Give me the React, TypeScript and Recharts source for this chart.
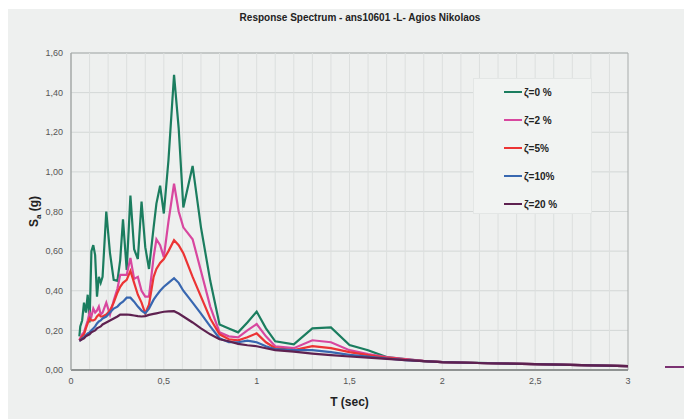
import React from 'react';
import {
    LineChart,
    Line,
    XAxis,
    YAxis,
    CartesianGrid,
    ReferenceArea,
    ReferenceLine,
} from 'recharts';

// Period T (sec) for every sample
const periods = [
    0.045, 0.05, 0.06, 0.07, 0.08, 0.09, 0.10, 0.11, 0.12, 0.13,
    0.14, 0.15, 0.16, 0.17, 0.19, 0.21, 0.23, 0.25, 0.265, 0.28,
    0.30, 0.32, 0.34, 0.36, 0.38, 0.40, 0.42, 0.445, 0.46, 0.48,
    0.50, 0.525, 0.555, 0.58, 0.605, 0.655, 0.70, 0.75, 0.80, 0.85,
    0.90, 0.95, 1.0, 1.05, 1.1, 1.2, 1.3, 1.4, 1.5, 1.6,
    1.7, 1.8, 1.9, 2.0, 2.25, 2.5, 2.75, 3.0,
];

// Sa (g) for each damping ratio
const zeta0 = [
    0.17, 0.22, 0.25, 0.34, 0.29, 0.38, 0.24, 0.60, 0.63, 0.58,
    0.37, 0.47, 0.44, 0.47, 0.80, 0.59, 0.455, 0.45, 0.555, 0.76,
    0.505, 0.88, 0.61, 0.56, 0.85, 0.62, 0.51, 0.72, 0.84, 0.93,
    0.79, 1.06, 1.49, 1.22, 0.82, 1.03, 0.72, 0.45, 0.23, 0.21,
    0.19, 0.24, 0.295, 0.21, 0.145, 0.13, 0.21, 0.215, 0.126, 0.10,
    0.065, 0.055, 0.045, 0.04, 0.035, 0.03, 0.025, 0.02,
];
const zeta2 = [
    0.15, 0.16, 0.18, 0.19, 0.22, 0.25, 0.29, 0.27, 0.31, 0.29,
    0.30, 0.32, 0.28, 0.29, 0.34, 0.28, 0.35, 0.41, 0.48, 0.48,
    0.48, 0.565, 0.46, 0.47, 0.40, 0.37, 0.37, 0.57, 0.66, 0.63,
    0.57, 0.75, 0.94, 0.80, 0.72, 0.66, 0.50, 0.32, 0.19, 0.17,
    0.165, 0.20, 0.232, 0.17, 0.12, 0.11, 0.15, 0.14, 0.10, 0.08,
    0.065, 0.055, 0.046, 0.04, 0.034, 0.03, 0.025, 0.02,
];
const zeta5 = [
    0.15, 0.155, 0.17, 0.18, 0.21, 0.235, 0.26, 0.25, 0.25, 0.255,
    0.27, 0.28, 0.27, 0.27, 0.28, 0.30, 0.34, 0.39, 0.42, 0.44,
    0.455, 0.50, 0.44, 0.38, 0.34, 0.285, 0.33, 0.47, 0.51, 0.54,
    0.56, 0.60, 0.655, 0.63, 0.59, 0.47, 0.37, 0.26, 0.18, 0.155,
    0.15, 0.165, 0.185, 0.14, 0.11, 0.10, 0.12, 0.11, 0.09, 0.075,
    0.062, 0.053, 0.045, 0.04, 0.034, 0.03, 0.025, 0.02,
];
const zeta10 = [
    0.15, 0.15, 0.16, 0.165, 0.175, 0.185, 0.19, 0.20, 0.21, 0.22,
    0.235, 0.245, 0.25, 0.26, 0.27, 0.29, 0.31, 0.32, 0.335, 0.345,
    0.365, 0.365, 0.345, 0.32, 0.30, 0.286, 0.31, 0.355, 0.375, 0.40,
    0.42, 0.44, 0.463, 0.44, 0.40, 0.34, 0.285, 0.22, 0.16, 0.14,
    0.14, 0.148, 0.14, 0.12, 0.105, 0.10, 0.10, 0.09, 0.076, 0.068,
    0.058, 0.05, 0.045, 0.04, 0.034, 0.03, 0.025, 0.02,
];
const zeta20 = [
    0.15, 0.15, 0.155, 0.16, 0.17, 0.175, 0.18, 0.19, 0.195, 0.20,
    0.21, 0.215, 0.22, 0.23, 0.24, 0.25, 0.26, 0.27, 0.28, 0.28,
    0.28, 0.278, 0.275, 0.272, 0.27, 0.272, 0.278, 0.283, 0.286, 0.29,
    0.294, 0.296, 0.297, 0.285, 0.27, 0.24, 0.21, 0.18, 0.155, 0.145,
    0.132, 0.125, 0.12, 0.11, 0.10, 0.093, 0.083, 0.075, 0.068, 0.062,
    0.056, 0.05, 0.045, 0.04, 0.034, 0.03, 0.025, 0.02,
];

const xTicks = [0, 0.5, 1, 1.5, 2, 2.5, 3];
const xMinorTicks = [
    0.1, 0.2, 0.3, 0.4, 0.5, 0.6, 0.7, 0.8, 0.9, 1.0,
    1.1, 1.2, 1.3, 1.4, 1.5, 1.6, 1.7, 1.8, 1.9, 2.0,
    2.1, 2.2, 2.3, 2.4, 2.5, 2.6, 2.7, 2.8, 2.9,
];
const yTicks = [0, 0.2, 0.4, 0.6, 0.8, 1.0, 1.2, 1.4, 1.6];

const SERIES = [
    { key: 'z0', name: 'ζ=0 %', color: '#1b7d5f' },
    { key: 'z2', name: 'ζ=2 %', color: '#d8479f' },
    { key: 'z5', name: 'ζ=5%', color: '#ec3434' },
    { key: 'z10', name: 'ζ=10%', color: '#3867b0' },
    { key: 'z20', name: 'ζ=20 %', color: '#5e2150' },
];

const data = periods.map((t, i) => ({
    t,
    z0: zeta0[i],
    z2: zeta2[i],
    z5: zeta5[i],
    z10: zeta10[i],
    z20: zeta20[i],
}));

const FONT = '"Liberation Sans", Arial, sans-serif';
const comma = (v: number, d: number) => v.toFixed(d).replace('.', ',');

// legend drawn as a plain box so it doesn't steal room from the plot
const LegendBox = () => (
    <div
        style={{
            position: 'absolute',
            left: 465,
            top: 69,
            width: 119,
            height: 136,
            background: '#f1f3f2',
            border: '1px solid #e3e6e5',
            boxSizing: 'border-box',
        }}
    >
        {SERIES.map((s, i) => (
            <div
                key={s.key}
                style={{
                    position: 'absolute',
                    left: 30,
                    top: 6 + i * 28,
                    display: 'flex',
                    alignItems: 'center',
                    height: 14,
                }}
            >
                <div style={{ width: 18, height: 2, background: s.color, marginRight: 2 }} />
                <span style={{ fontFamily: FONT, fontSize: 10, fontWeight: 'bold', color: '#222' }}>
                    {s.name}
                </span>
            </div>
        ))}
    </div>
);

const YLabel = ({ viewBox }: any) => {
    const cx = viewBox.x + 30;
    const cy = viewBox.y + viewBox.height / 2;
    return (
        <text
            x={cx}
            y={cy}
            transform={`rotate(-90, ${cx}, ${cy})`}
            textAnchor="middle"
            fontFamily={FONT}
            fontWeight="bold"
            fontSize={12}
            fill="#222"
        >
            S<tspan fontSize={8} dy={3}>a</tspan>
            <tspan dy={-3}> (g)</tspan>
        </text>
    );
};

const XLabel = ({ viewBox }: any) => (
    <text
        x={viewBox.x + viewBox.width / 2}
        y={viewBox.y + 36}
        textAnchor="middle"
        fontFamily={FONT}
        fontWeight="bold"
        fontSize={12}
        fill="#222"
    >
        T (sec)
    </text>
);

const App = () => {
    return (
        <div style={{ width: 684, height: 419, position: 'relative', overflow: 'hidden', background: '#fff' }}>
            <style>{'body { margin: 0; }'}</style>
            <div
                style={{
                    position: 'absolute',
                    left: 8,
                    top: 9,
                    width: 676,
                    height: 410,
                    background: '#eef0ef',
                }}
            >
                <div
                    style={{
                        position: 'absolute',
                        left: 352,
                        top: 3,
                        transform: 'translateX(-50%)',
                        whiteSpace: 'nowrap',
                        fontFamily: FONT,
                        fontSize: 10,
                        fontWeight: 'bold',
                        color: '#222',
                    }}
                >
                    Response Spectrum - ans10601 -L- Agios Nikolaos
                </div>
                <LineChart
                    width={676}
                    height={410}
                    data={data}
                    margin={{ top: 44, right: 56, bottom: 19, left: 0 }}
                >
                    <CartesianGrid vertical={false} stroke="#d3d7d6" />
                    {/* light vertical grid every 0.1 s */}
                    {xMinorTicks.map((t) => (
                        <ReferenceLine key={t} x={t} stroke="#dcdfde" />
                    ))}
                    <XAxis
                        dataKey="t"
                        type="number"
                        domain={[0, 3]}
                        ticks={xTicks}
                        height={30}
                        tickLine={false}
                        axisLine={{ stroke: '#8f9392', strokeWidth: 2 }}
                        tickFormatter={(v) => comma(v, v % 1 === 0 ? 0 : 1)}
                        tick={{ fontFamily: FONT, fontSize: 9, fill: '#555' }}
                        label={<XLabel />}
                    />
                    <YAxis
                        type="number"
                        domain={[0, 1.6]}
                        ticks={yTicks}
                        width={63}
                        tickLine={false}
                        axisLine={{ stroke: '#a3a7a6' }}
                        tickFormatter={(v) => comma(v, 2)}
                        tick={{ fontFamily: FONT, fontSize: 9, fill: '#555' }}
                        label={<YLabel />}
                    />
                    <ReferenceArea x1={0} x2={3} y1={0} y2={1.6} fill="none" stroke="#a8acab" />
                    {SERIES.map((s) => (
                        <Line
                            key={s.key}
                            type="linear"
                            dataKey={s.key}
                            name={s.name}
                            stroke={s.color}
                            strokeWidth={2.2}
                            dot={false}
                            activeDot={false}
                            isAnimationActive={false}
                        />
                    ))}
                </LineChart>
                <LegendBox />
                {/* stray line stub at the right edge */}
                <div
                    style={{
                        position: 'absolute',
                        left: 657,
                        top: 357,
                        width: 19,
                        height: 2,
                        background: '#7b3272',
                    }}
                />
            </div>
        </div>
    );
};

export default App;
